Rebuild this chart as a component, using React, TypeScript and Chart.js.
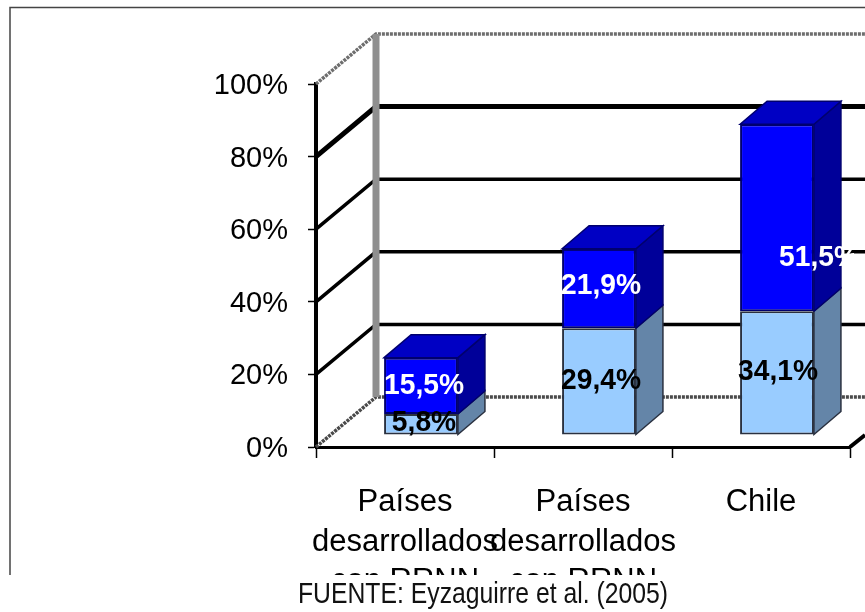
import React, { useEffect, useRef } from "react";
import { Chart, registerables } from "chart.js";

Chart.register(...registerables);

const categories = [
  ["Países", "desarrollados", "con RRNN"],
  ["Países", "desarrollados", "con RRNN"],
  ["Chile"],
];
const lowerSeries = [5.8, 29.4, 34.1];
const upperSeries = [15.5, 21.9, 51.5];
const footerText = "FUENTE: Eyzaguirre et al. (2005)";

const FONT = '"Liberation Sans", Arial, sans-serif';
const WALL = { dx: 60, dy: -50 };
const BAR_SHIFT = { dx: 16, dy: -12 };
const BAR_DEPTH = { dx: 27, dy: -23 };

const COLORS = {
  lowerFront: "#99ccff",
  upperFront: "#0000ff",
  lowerSide: "#6485a8",
  upperSide: "#000099",
  upperTop: "#0000c4",
  lowerEdge: "#2a3140",
  upperEdge: "#00006e",
};

// Draws the wall rails and the back-plane grid lines that give the plot its depth.
function drawWalls(chart: any) {
  const { ctx, scales } = chart;
  const yScale = scales.y;
  const xLeft = chart.chartArea.left;
  const backX = xLeft + WALL.dx;
  const rightEdge = chart.width;

  yScale.ticks.forEach((tick: any) => {
    const y = yScale.getPixelForValue(tick.value);
    const backY = y + WALL.dy;
    const isEdge = tick.value === 0 || tick.value === 100;
    const heavy = tick.value === 80;
    ctx.save();
    ctx.strokeStyle = isEdge ? (tick.value === 0 ? "#4a4a4a" : "#6e6e6e") : "#000";
    ctx.lineWidth = isEdge ? 3.5 : heavy ? 5 : 3.5;
    ctx.setLineDash(isEdge ? [3, 1] : []);
    ctx.beginPath();
    ctx.moveTo(xLeft, y);
    ctx.lineTo(backX, backY);
    ctx.lineTo(rightEdge, backY);
    ctx.stroke();
    ctx.restore();
  });

  ctx.save();
  ctx.strokeStyle = "#8f8f8f";
  ctx.lineWidth = 7;
  ctx.beginPath();
  ctx.moveTo(backX, yScale.getPixelForValue(100) + WALL.dy);
  ctx.lineTo(backX, yScale.getPixelForValue(0) + WALL.dy);
  ctx.stroke();

  // Front floor edge running off to the right
  const floorRight = chart.chartArea.right;
  const floorY = yScale.getPixelForValue(0);
  ctx.strokeStyle = "#000";
  ctx.lineWidth = 4;
  ctx.beginPath();
  ctx.moveTo(floorRight, floorY);
  ctx.lineTo(rightEdge, floorY - 12);
  ctx.stroke();
  ctx.restore();
}

function polygon(ctx: any, points: number[][], fill: string, edge: string) {
  ctx.beginPath();
  points.forEach(([x, y], i) => (i ? ctx.lineTo(x, y) : ctx.moveTo(x, y)));
  ctx.closePath();
  ctx.fillStyle = fill;
  ctx.fill();
  ctx.strokeStyle = edge;
  ctx.lineWidth = 1.5;
  ctx.stroke();
}

// Side and top faces of each stacked column, taken from the bar elements.
function drawBarDepth(chart: any) {
  const { ctx } = chart;
  const lowerBars = chart.getDatasetMeta(0).data;
  const upperBars = chart.getDatasetMeta(1).data;
  lowerBars.forEach((lower: any, i: number) => {
    const upper = upperBars[i];
    const left = lower.x - lower.width / 2 + BAR_SHIFT.dx;
    const right = lower.x + lower.width / 2 + BAR_SHIFT.dx;
    const base = lower.base + BAR_SHIFT.dy;
    const mid = lower.y + BAR_SHIFT.dy;
    const top = upper.y + BAR_SHIFT.dy;
    const { dx, dy } = BAR_DEPTH;
    polygon(ctx, [[right, base], [right + dx, base + dy], [right + dx, mid + dy], [right, mid]], COLORS.lowerSide, COLORS.lowerEdge);
    polygon(ctx, [[right, mid], [right + dx, mid + dy], [right + dx, top + dy], [right, top]], COLORS.upperSide, COLORS.upperEdge);
    polygon(ctx, [[left, top], [left + dx, top + dy], [right + dx, top + dy], [right, top]], COLORS.upperTop, COLORS.upperEdge);
  });
}

// Value labels: [series index][category index] => nudge from the segment centre.
const labelNudges = [
  [[3, -1], [2, -1], [1, -1]],
  [[3, 0], [2, -3], [42, 40]],
];
const labelColors = ["#000000", "#ffffff"];

function drawValueLabels(chart: any) {
  const { ctx } = chart;
  ctx.save();
  ctx.beginPath();
  ctx.rect(0, 0, 854, chart.height);
  ctx.clip();
  ctx.textAlign = "center";
  ctx.textBaseline = "middle";
  [lowerSeries, upperSeries].forEach((values, s) => {
    const bars = chart.getDatasetMeta(s).data;
    values.forEach((value, i) => {
      const bar = bars[i];
      const [nx, ny] = labelNudges[s][i];
      ctx.save();
      ctx.translate(bar.x + BAR_SHIFT.dx + nx, (bar.y + bar.base) / 2 + BAR_SHIFT.dy + ny);
      ctx.scale(0.94, 1);
      ctx.font = `bold 30px ${FONT}`;
      ctx.fillStyle = labelColors[s];
      ctx.fillText(`${value.toFixed(1).replace(".", ",")}%`, 0, 0);
      ctx.restore();
    });
  });
  ctx.restore();
}

const depthPlugin = {
  id: "depthPlugin",
  beforeDraw(chart: any) {
    // Outer frame: top and left rules only
    const { ctx } = chart;
    ctx.save();
    ctx.fillStyle = "#ffffff";
    ctx.fillRect(0, 0, chart.width, chart.height);
    ctx.strokeStyle = "#444";
    ctx.lineWidth = 1.5;
    ctx.beginPath();
    ctx.moveTo(10, 575);
    ctx.lineTo(10, 7.5);
    ctx.lineTo(chart.width, 7.5);
    ctx.stroke();
    ctx.restore();
  },
  beforeDatasetsDraw(chart: any) {
    drawWalls(chart);
    drawBarDepth(chart);
    chart.ctx.save();
    chart.ctx.translate(BAR_SHIFT.dx, BAR_SHIFT.dy);
  },
  afterDatasetsDraw(chart: any) {
    chart.ctx.restore();
    drawValueLabels(chart);
  },
  afterDraw(chart: any) {
    // The caption strip covers the lower part of the category labels.
    const { ctx } = chart;
    ctx.save();
    ctx.fillStyle = "#ffffff";
    ctx.fillRect(0, 575, chart.width, chart.height - 575);
    ctx.fillStyle = "#111";
    ctx.font = `30px ${FONT}`;
    ctx.textAlign = "center";
    ctx.textBaseline = "alphabetic";
    ctx.translate(483, 603);
    ctx.scale(0.825, 1);
    ctx.fillText(footerText, 0, 0);
    ctx.restore();
  },
};

export default function App() {
  const canvasRef = useRef<HTMLCanvasElement | null>(null);

  useEffect(() => {
    const canvas = canvasRef.current;
    if (!canvas) return;
    const sharedBar = {
      barPercentage: 0.415,
      categoryPercentage: 1,
      borderWidth: 2,
      borderSkipped: false,
      clip: false,
    };
    const chart = new Chart(canvas, {
      type: "bar",
      data: {
        labels: categories,
        datasets: [
          { label: "lower", data: lowerSeries, backgroundColor: COLORS.lowerFront, borderColor: COLORS.lowerEdge, ...sharedBar },
          { label: "upper", data: upperSeries, backgroundColor: COLORS.upperFront, borderColor: COLORS.upperEdge, ...sharedBar },
        ],
      },
      options: {
        responsive: false,
        animation: false,
        layout: { autoPadding: false, padding: { top: 84, right: 15, left: 0, bottom: 0 } },
        plugins: { legend: { display: false }, title: { display: false }, tooltip: { enabled: false } },
        scales: {
          x: {
            stacked: true,
            afterFit: (scale: any) => { scale.height = 165; },
            border: { color: "#000", width: 3 },
            grid: { drawOnChartArea: false, tickLength: 11, color: "#000", tickWidth: 1.5 },
            ticks: {
              autoSkip: false,
              maxRotation: 0,
              minRotation: 0,
              padding: 25,
              color: "#000",
              font: { family: FONT, size: 31, lineHeight: 1.27 },
            },
          },
          y: {
            stacked: true,
            min: 0,
            max: 100,
            afterFit: (scale: any) => { scale.width = 316; },
            border: { color: "#000", width: 4 },
            grid: { drawOnChartArea: false, tickLength: 8, color: "#000", tickWidth: 1.5 },
            ticks: {
              stepSize: 20,
              padding: 20,
              labelOffset: 2,
              color: "#000",
              font: { family: FONT, size: 29 },
              callback: (v: any) => `${v}%`,
            },
          },
        },
      },
      plugins: [depthPlugin],
    } as any);
    return () => chart.destroy();
  }, []);

  return (
    <div style={{ position: "fixed", left: 0, top: 0, width: 865, height: 612, overflow: "hidden", background: "#fff" }}>
      <canvas ref={canvasRef} width={865} height={612} style={{ display: "block" }} />
    </div>
  );
}
